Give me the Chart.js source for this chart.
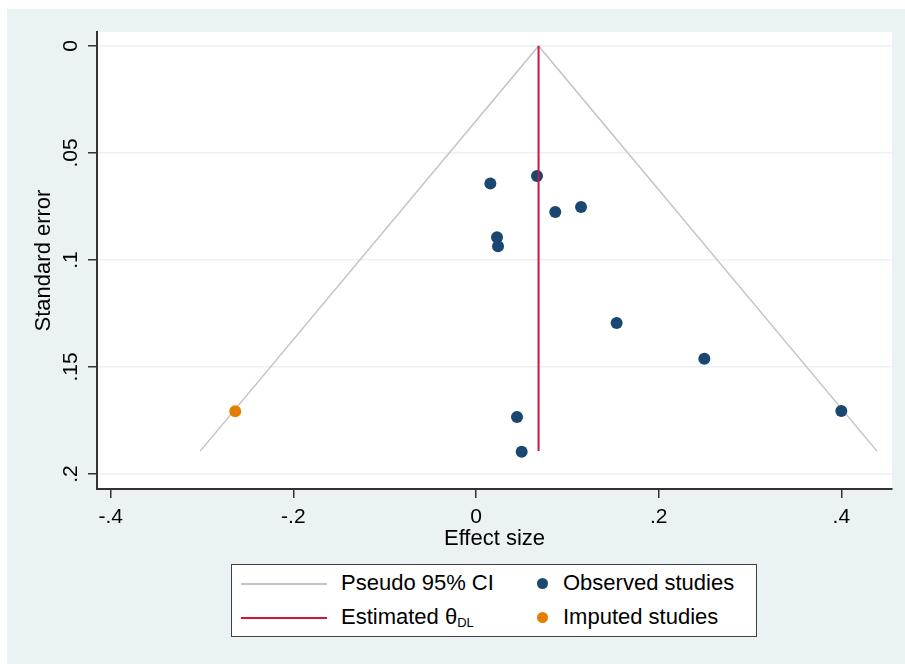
<!DOCTYPE html>
<html>
<head>
<meta charset="utf-8">
<script src="https://cdn.jsdelivr.net/npm/chart.js@4/dist/chart.umd.min.js"></script>
<style>
  html, body { margin: 0; padding: 0; background: #ffffff; }
  #wrap { position: relative; width: 905px; height: 664px; overflow: hidden; }
  #panel { position: absolute; left: 7px; top: 9px; width: 898px; height: 655px; background: #eaf2f3; }
  #c { position: absolute; left: 0; top: 0; }
  #legend {
    position: absolute; left: 231px; top: 564px; width: 524px; height: 71px;
    background: #ffffff; border: 1px solid #404040;
    font-family: "Liberation Sans", Arial, sans-serif; font-size: 22px; color: #000;
  }
  .item { position: absolute; height: 30px; line-height: 30px; white-space: nowrap; }
  .ln { position: absolute; width: 86px; height: 0; }
  .dot { position: absolute; width: 11px; height: 11px; border-radius: 50%; }
  sub { font-size: 13px; vertical-align: -3px; line-height: 0; }
</style>
</head>
<body>
<div id="wrap">
  <div id="panel"></div>
  <canvas id="c" width="905" height="664"></canvas>
  <div id="legend">
    <div class="ln" style="left:9px; top:18px; border-top:2px solid #c4c4c4;"></div>
    <div class="item" style="left:109px; top:3px;">Pseudo 95% CI</div>
    <div class="ln" style="left:9px; top:52px; border-top:2px solid #d0143c;"></div>
    <div class="item" style="left:109px; top:37px;">Estimated θ<sub>DL</sub></div>
    <div class="dot" style="left:305px; top:13px; background:#1a476f;"></div>
    <div class="item" style="left:331px; top:3px;">Observed studies</div>
    <div class="dot" style="left:305px; top:47px; background:#e37e00;"></div>
    <div class="item" style="left:331px; top:37px;">Imputed studies</div>
  </div>
</div>
<script>
// ---- data ----
const observedEffect = [0.0157, 0.0668, 0.0868, 0.1150, 0.0230, 0.0241, 0.1540, 0.2500, 0.4000, 0.0449, 0.0500];
const observedSE     = [0.0642, 0.0607, 0.0776, 0.0752, 0.0894, 0.0936, 0.1294, 0.1461, 0.1706, 0.1734, 0.1896];
const imputedEffect  = [-0.2636];
const imputedSE      = [0.1707];
const ciEffect       = [-0.302, 0.0685, 0.439];   // pseudo 95% CI funnel: left end, apex, right end
const ciSE           = [0.1893, 0, 0.1893];
const thetaEffect    = [0.0685, 0.0685];            // estimated theta (DL)
const thetaSE        = [0, 0.1893];
const xTickValues = [-0.4, -0.2, 0, 0.2, 0.4];
const xTickLabels = ['-.4', '-.2', '0', '.2', '.4'];
const yTickValues = [0, 0.05, 0.1, 0.15, 0.2];
const yTickLabels = ['0', '.05', '.1', '.15', '.2'];

const pts = (xs, ys) => xs.map((x, i) => ({ x: x, y: ys[i] }));

const plotBg = {
  id: 'plotBg',
  beforeDraw(chart) {
    const { ctx, chartArea: a } = chart;
    ctx.save();
    ctx.fillStyle = '#ffffff';
    ctx.fillRect(a.left, a.top, a.right - a.left, a.bottom - a.top);
    ctx.restore();
  }
};

const FONT = '"Liberation Sans", Arial, sans-serif';

new Chart(document.getElementById('c'), {
  type: 'scatter',
  data: {
    datasets: [
      { label: 'Estimated θDL', data: pts(thetaEffect, thetaSE), showLine: true, borderColor: '#d0143c', borderWidth: 2, pointRadius: 0, order: 0 },
      { label: 'Observed studies', data: pts(observedEffect, observedSE), backgroundColor: '#1a476f', borderWidth: 0, pointRadius: 6, order: 1 },
      { label: 'Imputed studies', data: pts(imputedEffect, imputedSE), backgroundColor: '#e37e00', borderWidth: 0, pointRadius: 6, order: 2 },
      { label: 'Pseudo 95% CI', data: pts(ciEffect, ciSE), showLine: true, borderColor: '#c4c4c4', borderWidth: 1.5, pointRadius: 0, order: 3 }
    ]
  },
  options: {
    responsive: false,
    animation: false,
    layout: { padding: { left: 0, top: 32, right: 13, bottom: 104 } },
    plugins: { legend: { display: false }, tooltip: { enabled: false } },
    scales: {
      x: {
        type: 'linear',
        min: -0.415, max: 0.4555,
        afterBuildTicks: (s) => { s.ticks = xTickValues.map(v => ({ value: v })); },
        afterFit: (s) => { s.height = 71; },
        grid: { drawOnChartArea: false, drawTicks: true, tickLength: 9, tickColor: '#333333', lineWidth: 1.5 },
        border: { display: true, color: '#333333', width: 2 },
        ticks: {
          padding: 7, color: '#000', font: { family: FONT, size: 21 }, maxRotation: 0, minRotation: 0,
          callback: (v) => { const i = xTickValues.findIndex(t => Math.abs(t - v) < 1e-9); return i >= 0 ? xTickLabels[i] : ''; }
        },
        title: { display: true, text: 'Effect size', color: '#000', font: { family: FONT, size: 22 }, padding: { top: 0, bottom: 8 } }
      },
      y: {
        type: 'linear',
        reverse: true,
        min: -0.00654, max: 0.207,
        afterBuildTicks: (s) => { s.ticks = yTickValues.map(v => ({ value: v })); },
        afterFit: (s) => { s.width = 97; },
        grid: { drawOnChartArea: true, color: '#eaf2f3', lineWidth: 1.5, drawTicks: true, tickLength: 9, tickColor: '#333333' },
        border: { display: true, color: '#333333', width: 2 },
        ticks: {
          padding: 2, color: '#000', font: { family: FONT, size: 21 }, minRotation: 90, maxRotation: 90, crossAlign: 'center',
          callback: (v) => { const i = yTickValues.findIndex(t => Math.abs(t - v) < 1e-9); return i >= 0 ? yTickLabels[i] : ''; }
        },
        title: { display: true, text: 'Standard error', color: '#000', font: { family: FONT, size: 22 }, padding: { top: 31, bottom: 0 } }
      }
    }
  },
  plugins: [plotBg]
});
</script>
</body>
</html>
